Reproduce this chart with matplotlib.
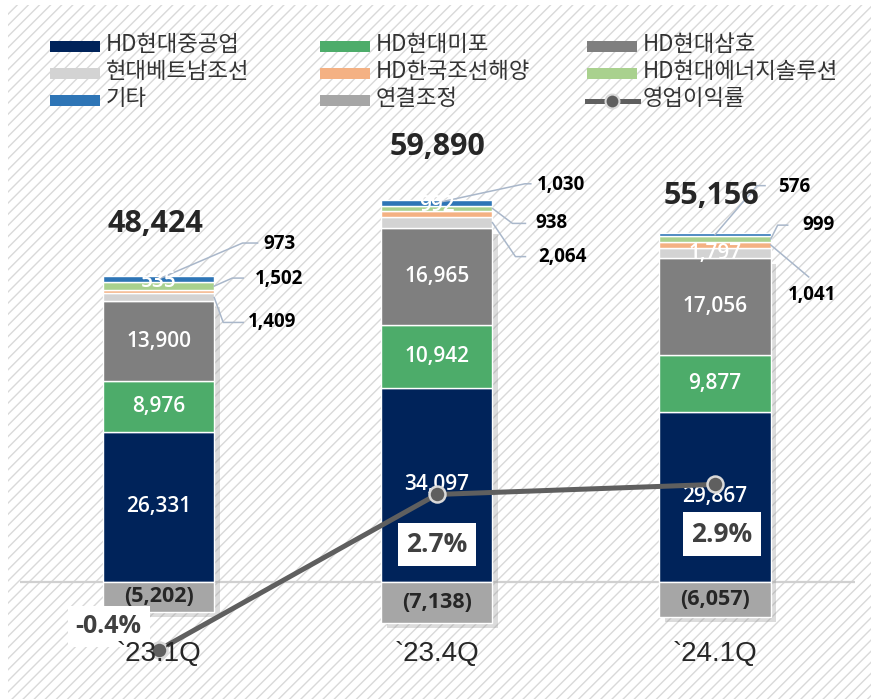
import matplotlib
matplotlib.use("Agg")
import matplotlib.pyplot as plt
import matplotlib.patheffects as pe
from matplotlib.lines import Line2D
from matplotlib.patches import Rectangle
from matplotlib.transforms import IdentityTransform

plt.rcParams["font.family"] = ["Open Sans", "Noto Sans CJK KR", "DejaVu Sans"]
plt.rcParams["hatch.linewidth"] = 1.0

W, H, DPI = 871, 699, 100

# ---- data (억원, %) ----
QUARTERS = ["`23.1Q", "`23.4Q", "`24.1Q"]
HEAVY = [26331, 34097, 29867]      # HD현대중공업
MIPO = [8976, 10942, 9877]         # HD현대미포
SAMHO = [13900, 16965, 17056]      # HD현대삼호
VIETNAM = [1409, 2064, 1797]       # 현대베트남조선
KSOE = [535, 992, 1041]            # HD한국조선해양
ENERGY = [1502, 938, 999]          # HD현대에너지솔루션
OTHER = [973, 1030, 576]           # 기타
ADJUST = [-5202, -7138, -6057]     # 연결조정
TOTALS = [48424, 59890, 55156]
MARGIN = [-0.4, 2.7, 2.9]          # 영업이익률

# stack order, bottom -> top
STACK = [
    ("HD현대중공업", HEAVY, "#00235a"),
    ("HD현대미포", MIPO, "#4dac6a"),
    ("HD현대삼호", SAMHO, "#7f7f7f"),
    ("현대베트남조선", VIETNAM, "#d3d3d3"),
    ("HD한국조선해양", KSOE, "#f4b183"),
    ("HD현대에너지솔루션", ENERGY, "#a9d18e"),
    ("기타", OTHER, "#2e75b6"),
]
ADJ_COLOR = "#a6a6a6"
LINE_COLOR = "#5f5f5f"
TEXT = "#262626"
LEADER = "#a9b7ca"

# leader callouts: (series, bar, anchor x in bar widths, path px, text px)
LEADERS = [
    ("기타", 0, 0.0, [(0, 0), (84, 36), (99, 36)], (105, 35)),
    ("HD현대에너지솔루션", 0, 0.5, [(0, 0), (18, 8), (29, 8)], (41, 7)),
    ("현대베트남조선", 0, 0.5, [(0, 0), (9, -25), (29, -25)], (34, -25)),
    ("기타", 1, 0.0, [(0, 0), (88, 19), (94, 19)], (100, 18)),
    ("HD현대에너지솔루션", 1, 0.5, [(0, 0), (20, -15), (33, -15)], (43, -15)),
    ("현대베트남조선", 1, 0.5, [(0, 0), (23, -34), (33, -34)], (46, -34)),
    ("기타", 2, 0.0, [(0, 0), (42, 49), (50, 49)], (63, 48)),
    ("HD현대에너지솔루션", 2, 0.5, [(0, 0), (7, 14), (17, 14)], (32, 14)),
    ("HD한국조선해양", 2, 0.5, [(0, 0), (38, -32)], (17, -50)),
]
WHITE_INSIDE = {"HD현대중공업": [0, 1, 2], "HD현대미포": [0, 1, 2],
                "HD현대삼호": [0, 1, 2], "현대베트남조선": [2]}
TOTAL_OFFSET = [(-3, 52), (1, 53), (-4, 37)]
PCT_OFFSET = [(-50, 24), (0, -50), (7, -50)]
PCT_SIZE = [18, 19, 19]
BAR_W = 0.4

fig = plt.figure(figsize=(W / DPI, H / DPI), dpi=DPI)
fig.patch.set_facecolor("white")
fig.add_artist(Rectangle((8 / W, 0), (W - 8) / W, (H - 5) / H, transform=fig.transFigure,
                         facecolor="white", edgecolor="#d9d9d9", hatch="///",
                         linewidth=0, zorder=-1))

ax = fig.add_axes([20 / W, 0, 835 / W, 1])
ax.patch.set_visible(False)
ax.set_xlim(-0.498, 2.503)
ax.set_ylim(-117 * 175.4, 582 * 175.4)
ax.set_axis_off()

x = list(range(len(QUARTERS)))
ax.axhline(0, color="#d0d0d0", lw=1.6, zorder=1)

# drop shadow behind the main block of each bar
shadow_top = [h + m + s for h, m, s in zip(HEAVY, MIPO, SAMHO)]
ax.bar(x, [t - a for t, a in zip(shadow_top, ADJUST)], bottom=ADJUST, width=BAR_W,
       color="white", linewidth=0, zorder=1.2,
       path_effects=[pe.SimplePatchShadow(offset=(4, -4), shadow_rgbFace="#8c8c8c", alpha=0.3),
                     pe.Normal()])

bottom = [0] * len(x)
cum = {}
for name, vals, color in STACK:
    ax.bar(x, vals, bottom=bottom, width=BAR_W, color=color, edgecolor="white",
           linewidth=1.0, zorder=2)
    cum[name] = (list(bottom), [b + v for b, v in zip(bottom, vals)])
    for i in WHITE_INSIDE.get(name, []):
        ax.text(i, bottom[i] + vals[i] / 2, f"{vals[i]:,}", ha="center", va="center",
                color="white", fontsize=15, fontweight="semibold", zorder=4)
    bottom = [b + v for b, v in zip(bottom, vals)]
pos_top = bottom

ax.bar(x, ADJUST, width=BAR_W, color=ADJ_COLOR, edgecolor="white", linewidth=1.0, zorder=2)
for i, v in enumerate(ADJUST):
    ax.text(i, v / 2, f"({abs(v):,})", ha="center", va="center", color=TEXT,
            fontsize=15.5, fontweight="bold", zorder=4)

# HD한국조선해양 values for 23.1Q / 23.4Q sit in white at the top of the green block
for i in [0, 1]:
    ax.text(i, cum["HD현대에너지솔루션"][1][i], f"{KSOE[i]:,}", ha="center", va="center",
            color="white", fontsize=15, fontweight="semibold", zorder=4)

for i, t in enumerate(TOTALS):
    ax.annotate(f"{t:,}", xy=(i, pos_top[i]), xytext=TOTAL_OFFSET[i],
                textcoords="offset pixels", ha="center", va="center",
                fontsize=22, fontweight="bold", color=TEXT, zorder=4)

values = {name: vals for name, vals, _ in STACK}
for name, i, fx, path, toff in LEADERS:
    lo, hi = cum[name][0][i], cum[name][1][i]
    anchor = (i + fx * BAR_W, (lo + hi) / 2)
    ax0, ay0 = ax.transData.transform(anchor)
    ax.add_line(Line2D([ax0 + dx for dx, _ in path], [ay0 + dy for _, dy in path],
                       transform=IdentityTransform(), color=LEADER, lw=1.1,
                       clip_on=False, zorder=3))
    ax.annotate(f"{values[name][i]:,}", xy=anchor, xytext=toff, textcoords="offset pixels",
                ha="left", va="center", fontsize=13.5, fontweight="bold", color="black",
                zorder=4)

# operating margin on secondary axis
ax2 = ax.twinx()
ax2.set_ylim(-69 / 50.2, 630 / 50.2)
ax2.set_axis_off()
ax2.plot(x, MARGIN, color=LINE_COLOR, lw=3.6, marker="o", ms=11.5,
         mfc=LINE_COLOR, mec="#d9d9d9", mew=1.8, zorder=3)
for i, m in enumerate(MARGIN):
    ax2.annotate(f"{m:.1f}%", xy=(i, m), xytext=PCT_OFFSET[i], textcoords="offset pixels",
                 ha="center", va="center", fontsize=PCT_SIZE[i], fontweight="bold",
                 color="#404040", zorder=5,
                 bbox=dict(boxstyle="square,pad=0.32", fc="white", ec="none"))

for i, q in enumerate(QUARTERS):
    ax2.text(i, 38 / H, q, transform=ax2.get_xaxis_transform(), ha="center",
             va="baseline", fontsize=20, color=TEXT, family="Liberation Sans", zorder=10)

# legend, laid out row by row like the source slide
legend_items = [(name, color) for name, _, color in STACK[:3]] + \
               [(name, color) for name, _, color in STACK[3:6]] + \
               [(STACK[6][0], STACK[6][2]), ("연결조정", ADJ_COLOR), ("영업이익률", None)]
col_x = [50, 320, 587]
row_y = [46.5, 73.5, 100.5]
for k, (name, color) in enumerate(legend_items):
    cx, cy = col_x[k % 3], row_y[k // 3]
    if color is None:
        fig.add_artist(Line2D([cx / W, (cx + 51) / W], [1 - cy / H] * 2,
                              transform=fig.transFigure, color=LINE_COLOR, lw=3.6, zorder=3))
        fig.add_artist(Line2D([(cx + 25) / W], [1 - cy / H], transform=fig.transFigure,
                              marker="o", ms=10, mfc=LINE_COLOR, mec="#d9d9d9", mew=1.5,
                              zorder=4))
    else:
        fig.add_artist(Rectangle((cx / W, 1 - (cy + 5.5) / H), 50 / W, 11 / H,
                                 transform=fig.transFigure, facecolor=color,
                                 edgecolor="none", zorder=3))
    fig.text((cx + 56) / W, 1 - (cy - 2) / H, name, ha="left", va="center",
             fontsize=16, color="#333333", family=["Noto Sans CJK KR", "DejaVu Sans"])

fig.savefig("out.png", dpi=DPI)
